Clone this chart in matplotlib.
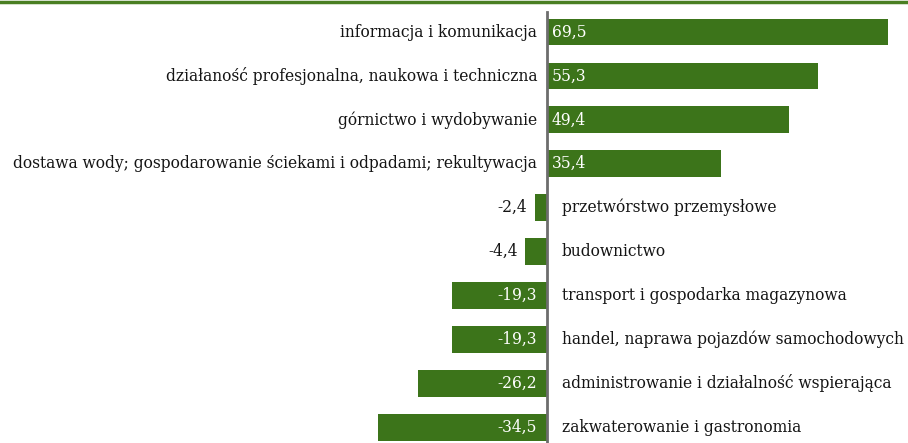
import matplotlib.pyplot as plt
from matplotlib import font_manager
from matplotlib.lines import Line2D

# dane: zmiana w %
kategorie = [
    "informacja i komunikacja",
    "działaność profesjonalna, naukowa i techniczna",
    "górnictwo i wydobywanie",
    "dostawa wody; gospodarowanie ściekami i odpadami; rekultywacja",
    "przetwórstwo przemysłowe",
    "budownictwo",
    "transport i gospodarka magazynowa",
    "handel, naprawa pojazdów samochodowych",
    "administrowanie i działalność wspierająca",
    "zakwaterowanie i gastronomia",
]
wartosci = [69.5, 55.3, 49.4, 35.4, -2.4, -4.4, -19.3, -19.3, -26.2, -34.5]

zielony = "#3c741a"

# szukamy wąskiego kroju szeryfowego
pliki = [f for f in font_manager.findSystemFonts() if "SerifCondensed.ttf" in f]
if pliki:
    fp = font_manager.FontProperties(fname=pliki[0], size=12.4)
else:
    fp = font_manager.FontProperties(family="Liberation Serif", size=14.5)

fig = plt.figure(figsize=(9.08, 4.43), dpi=100)
ax = fig.add_axes([0, 0, 1, 1])

y = list(range(len(wartosci)))
ax.barh(y, wartosci, height=0.61, color=zielony, zorder=2)

# skala: 1 jednostka ~ 4.906 px, zero na x=547
ax.set_xlim(-547 / 4.906, (908 - 547) / 4.906)
ax.set_ylim(9.36, -0.73)
ax.axis("off")

ax.axvline(0, ymin=0, ymax=(9.36 + 0.46) / (9.36 + 0.73), color="#6d6d6d", lw=2, zorder=3)

px = 1 / 4.906
for i, (k, v) in enumerate(zip(kategorie, wartosci)):
    txt = f"{v:.1f}".replace(".", ",")
    if v > 0:
        ax.text(-10 * px, i, k, ha="right", va="center", color="#141414", fontproperties=fp)
        ax.text(5 * px, i, txt, ha="left", va="center", color="white", fontproperties=fp)
    else:
        ax.text(15 * px, i, k, ha="left", va="center", color="#141414", fontproperties=fp)
        if v > -10:
            ax.text(v - 8 * px, i, txt, ha="right", va="center", color="#141414", fontproperties=fp)
        else:
            ax.text(-10 * px, i, txt, ha="right", va="center", color="white", fontproperties=fp)

fig.add_artist(Line2D([0, 1], [1 - 2 / 443, 1 - 2 / 443], color="#4a7f22", lw=2.5,
                      transform=fig.transFigure))

fig.savefig("out.png", dpi=100)
